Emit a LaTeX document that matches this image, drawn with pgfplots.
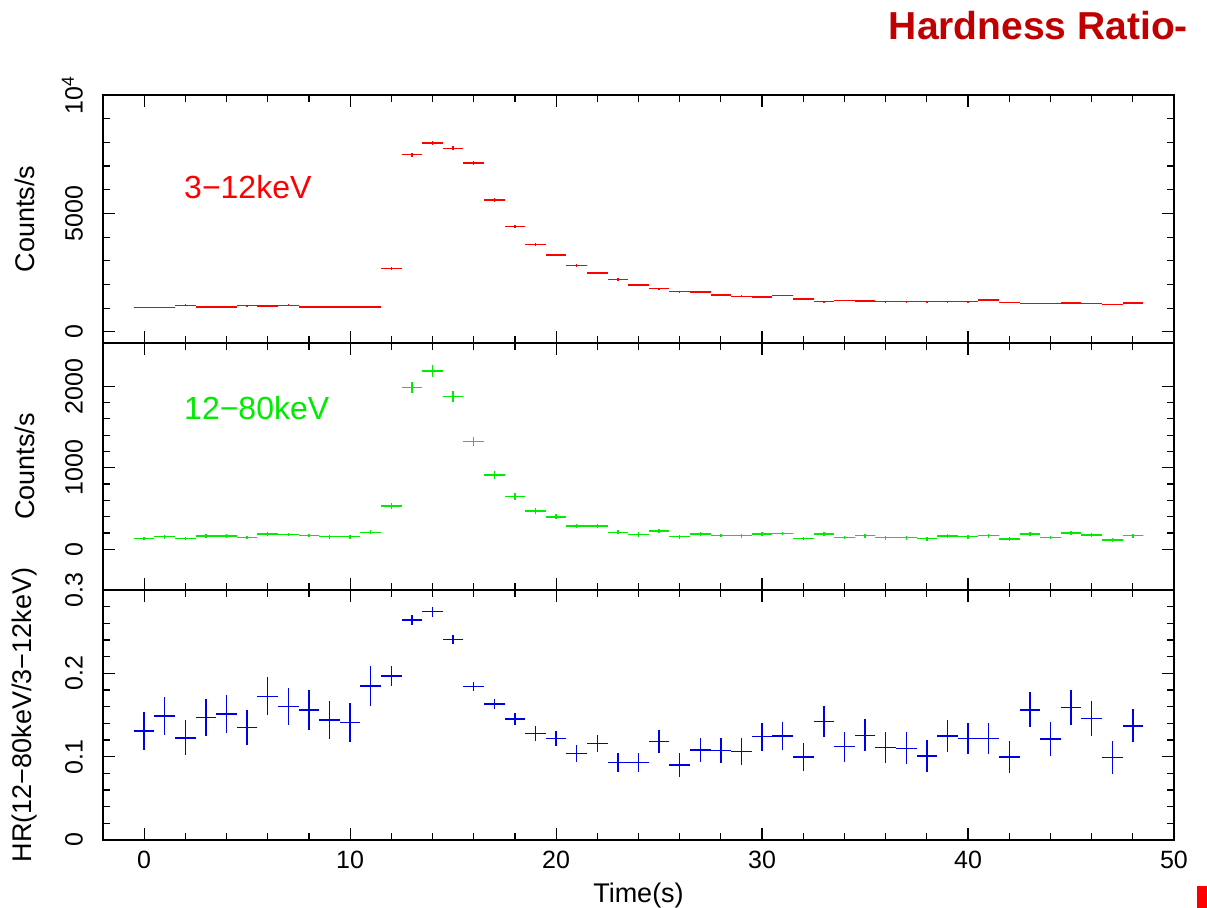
\documentclass[border=0pt]{standalone}
\usepackage{pgfplots}
\pgfplotsset{compat=1.18}
\usepackage{pgfplotstable}
\usepackage{fontspec}
\setmainfont{Liberation Sans}
\newfontfamily\titlefont{Liberation Sans}
\definecolor{hrred}{RGB}{192,0,0}
\definecolor{pgreen}{RGB}{0,235,0}
\definecolor{pblue}{RGB}{0,0,230}
\pgfdeclareplotmark{empty}{}

\pgfplotstableread{
t v e
0 1030 30
1 1030 30
2 1125 30
3 1055 30
4 1055 30
5 1110 30
6 1100 30
7 1125 30
8 1045 30
9 1045 30
10 1045 30
11 1045 30
12 2680 50
13 7480 85
14 7970 90
15 7750 85
16 7130 85
17 5560 75
18 4440 65
19 3680 60
20 3240 55
21 2800 50
22 2490 50
23 2210 45
24 1970 45
25 1830 40
26 1700 40
27 1675 40
28 1560 40
29 1495 40
30 1465 40
31 1535 40
32 1380 35
33 1280 35
34 1325 35
35 1310 35
36 1280 35
37 1270 35
38 1270 35
39 1280 35
40 1270 35
41 1340 35
42 1240 35
43 1200 35
44 1200 35
45 1210 35
46 1200 35
47 1155 35
48 1225 35
}\soft

\pgfplotstableread{
t v e
0 133 22
1 153 22
2 133 22
3 161 22
4 161 22
5 145 22
6 189 22
7 181 22
8 169 22
9 153 22
10 153 22
11 206 25
12 528 35
13 1983 65
14 2188 70
15 1874 65
16 1318 55
17 911 45
18 649 40
19 471 35
20 397 30
21 286 28
22 286 28
23 206 25
24 181 25
25 222 25
26 153 22
27 185 22
28 169 22
29 165 22
30 185 22
31 193 22
32 133 22
33 185 22
34 145 22
35 165 22
36 141 22
37 141 22
38 129 22
39 161 22
40 153 22
41 165 22
42 125 22
43 189 22
44 145 22
45 197 22
46 177 22
47 113 22
48 165 22
}\hard

\pgfplotstableread{
t v e
0 0.1306 0.0226
1 0.149 0.023
2 0.1225 0.021
3 0.147 0.0226
4 0.151 0.023
5 0.135 0.0215
6 0.1725 0.023
7 0.160 0.022
8 0.156 0.0235
9 0.144 0.0226
10 0.141 0.023
11 0.1846 0.024
12 0.197 0.012
13 0.264 0.0065
14 0.274 0.006
15 0.2406 0.0055
16 0.184 0.0055
17 0.163 0.006
18 0.145 0.007
19 0.128 0.009
20 0.1217 0.009
21 0.104 0.0105
22 0.116 0.0105
23 0.0927 0.0117
24 0.0927 0.0117
25 0.118 0.0135
26 0.0899 0.014
27 0.108 0.0147
28 0.1076 0.015
29 0.1064 0.016
30 0.124 0.0167
31 0.125 0.0167
32 0.0995 0.017
33 0.142 0.019
34 0.112 0.018
35 0.1257 0.019
36 0.111 0.019
37 0.110 0.019
38 0.1007 0.019
39 0.125 0.019
40 0.1217 0.019
41 0.1217 0.019
42 0.0995 0.019
43 0.156 0.021
44 0.121 0.020
45 0.159 0.021
46 0.146 0.021
47 0.0987 0.020
48 0.137 0.020
}\hr

\pgfplotsset{
 panel/.style={
  width=535.5pt, scale only axis,
  anchor=north west,
  xmin=-2, xmax=50,
  xtick={0,10,...,50}, minor x tick num=4,
  minor y tick num=4,
  major tick length=6pt, minor tick length=3.5pt,
  tick style={black, line width=0.6pt},
  axis line style={line width=0.9pt},
  /pgf/number format/assume math mode=true,
  ticklabel style={font=\fontsize{12.5}{15}\selectfont},
  label style={font=\fontsize{13.5}{16}\selectfont},
  yticklabel style={rotate=90, anchor=south, yshift=6.5pt},
  xticklabel style={yshift=-2pt},
  ylabel style={at={(axis description cs:-0.073,0.5)}, anchor=center},
  scaled y ticks=false,
 },
 errstyle/.style={only marks, mark=empty, error bars/.cd, x dir=both, x fixed=0.5, y dir=both, y explicit, error mark=none, error bar style={line width=0.7pt, #1}},
}

\begin{document}
\begin{tikzpicture}
\useasboundingbox (0,0) rectangle (603.5pt,-454pt);

\begin{axis}[panel, at={(51.5pt,-47.5pt)}, height=124pt,
  ymin=-470, ymax=10000,
  ytick={0,5000,10000}, yticklabels={0,5000,10\textsuperscript{4}},
  xticklabel=\empty,
  ylabel={Counts/s}]
\addplot[errstyle=red] table[x=t, y=v, y error=e] {\soft};
\node[anchor=west, text=red, font=\fontsize{16}{19}\selectfont] at (axis cs:1.6,6100) {3−12keV};
\end{axis}

\begin{axis}[panel, at={(51.5pt,-171.5pt)}, height=123.5pt,
  ymin=-500, ymax=2530,
  ytick={0,1000,2000}, yticklabels={0,1000,2000},
  xticklabel=\empty,
  ylabel={Counts/s}]
\addplot[errstyle=pgreen] table[x=t, y=v, y error=e] {\hard};
\node[anchor=west, text=pgreen, font=\fontsize{16}{19}\selectfont] at (axis cs:1.6,1733) {12−80keV};
\end{axis}

\begin{axis}[panel, at={(51.5pt,-295pt)}, height=125pt,
  ymin=0, ymax=0.3,
  ytick={0,0.1,0.2,0.3}, yticklabels={0,0.1,0.2,0.3},
  xticklabels={0,10,20,30,40,50},
  xlabel={Time(s)},
  ylabel={HR(12−80keV/3−12keV)}]
\addplot[errstyle=pblue] table[x=t, y=v, y error=e] {\hr};
\end{axis}

\node[anchor=base east, text=hrred, font=\titlefont\bfseries\fontsize{19.5}{22}\selectfont] at (597.5pt,-20pt) {Hardness Ratio-};
\fill[red] (598.5pt,-443pt) rectangle (603.5pt,-454pt);
\end{tikzpicture}
\end{document}
